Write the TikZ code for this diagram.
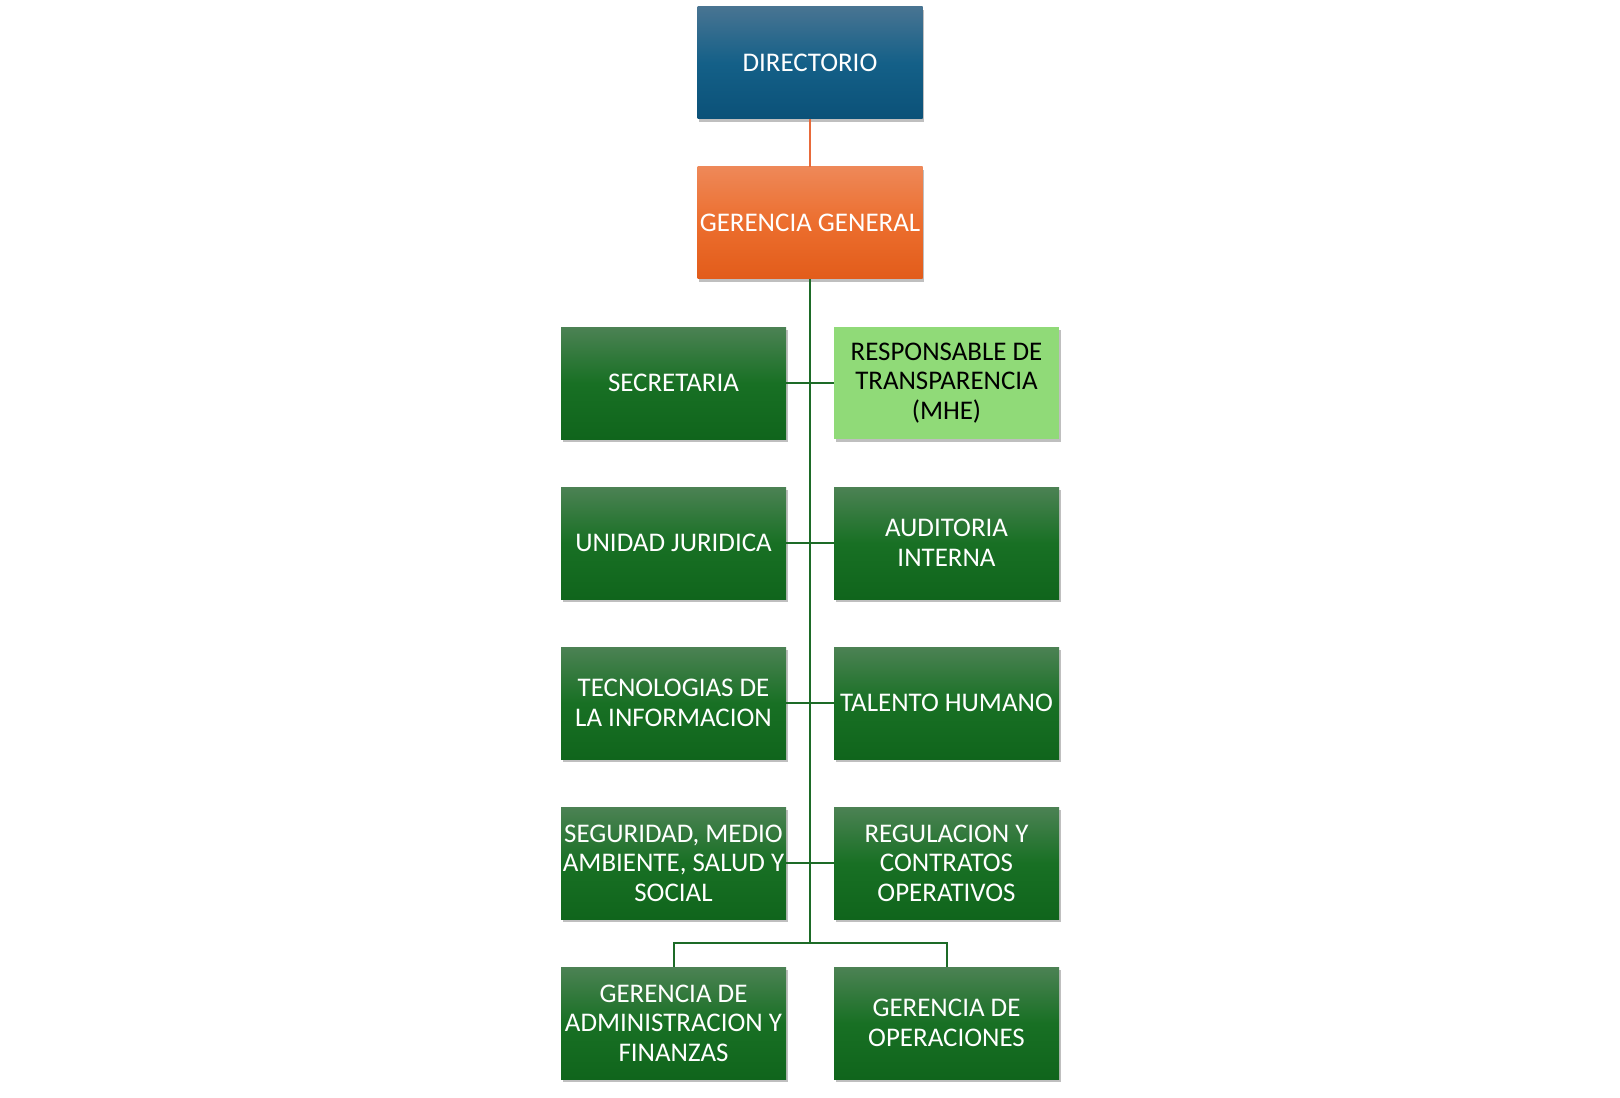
\documentclass[tikz,border=0pt]{standalone}
\usepackage{fontspec}
\setmainfont{Carlito}
\usetikzlibrary{shadows}
\definecolor{bluetop}{RGB}{72,116,146}
\definecolor{bluemid}{RGB}{20,96,136}
\definecolor{bluebot}{RGB}{11,81,120}
\definecolor{ortop}{RGB}{238,136,88}
\definecolor{ormid}{RGB}{236,110,46}
\definecolor{orbot}{RGB}{226,92,26}
\definecolor{grtop}{RGB}{76,130,84}
\definecolor{grmid}{RGB}{24,112,36}
\definecolor{grbot}{RGB}{16,101,28}
\definecolor{lightgr}{RGB}{144,218,120}
\definecolor{lineorange}{RGB}{232,106,58}
\definecolor{linegreen}{RGB}{29,107,39}
\tikzset{
  box/.style={rectangle, minimum width=168.75pt, minimum height=84pt, inner sep=0pt,
    align=center, font=\fontsize{20.2}{22.2}\selectfont, text=white,
    drop shadow={shadow xshift=1.2pt, shadow yshift=-2.2pt, opacity=0.25, fill=black}},
  bluebox/.style={box, top color=bluetop, bottom color=bluebot, middle color=bluemid},
  orbox/.style={box, top color=ortop, bottom color=orbot, middle color=ormid},
  grbox/.style={box, top color=grtop, bottom color=grbot, middle color=grmid},
  ltbox/.style={box, fill=lightgr, text=black},
  orline/.style={draw=lineorange, line width=0.9pt},
  grline/.style={draw=linegreen, line width=1.5pt}
}
\begin{document}
\begin{tikzpicture}[x=0.75pt, y=-0.75pt]
\useasboundingbox (0,0) rectangle (1620,1098);
\node[bluebox] (dir) at (810,63) {DIRECTORIO};
\node[orbox] (gg) at (810,223) {GERENCIA GENERAL};
\node[grbox] (sec) at (673.5,383) {SECRETARIA};
\node[ltbox] (resp) at (946.5,383) {RESPONSABLE DE\\TRANSPARENCIA\\(MHE)};
\node[grbox] (uj) at (673.5,543) {UNIDAD JURIDICA};
\node[grbox] (ai) at (946.5,543) {AUDITORIA\\INTERNA};
\node[grbox] (ti) at (673.5,703) {TECNOLOGIAS DE\\LA INFORMACION};
\node[grbox] (th) at (946.5,703) {TALENTO HUMANO};
\node[grbox] (sms) at (673.5,863) {SEGURIDAD, MEDIO\\AMBIENTE, SALUD Y\\SOCIAL};
\node[grbox] (rco) at (946.5,863) {REGULACION Y\\CONTRATOS\\OPERATIVOS};
\node[grbox] (gaf) at (673.5,1023) {GERENCIA DE\\ADMINISTRACION Y\\FINANZAS};
\node[grbox] (gop) at (946.5,1023) {GERENCIA DE\\OPERACIONES};
\coordinate (bus) at (810,943);
\draw[orline] (dir.south) -- (gg.north);
\draw[grline] (gg.south) -- (bus);
\draw[grline] (sec.east) -- (resp.west);
\draw[grline] (uj.east) -- (ai.west);
\draw[grline] (ti.east) -- (th.west);
\draw[grline] (sms.east) -- (rco.west);
\draw[grline] (gaf.north) |- (bus) -| (gop.north);
\end{tikzpicture}
\end{document}
